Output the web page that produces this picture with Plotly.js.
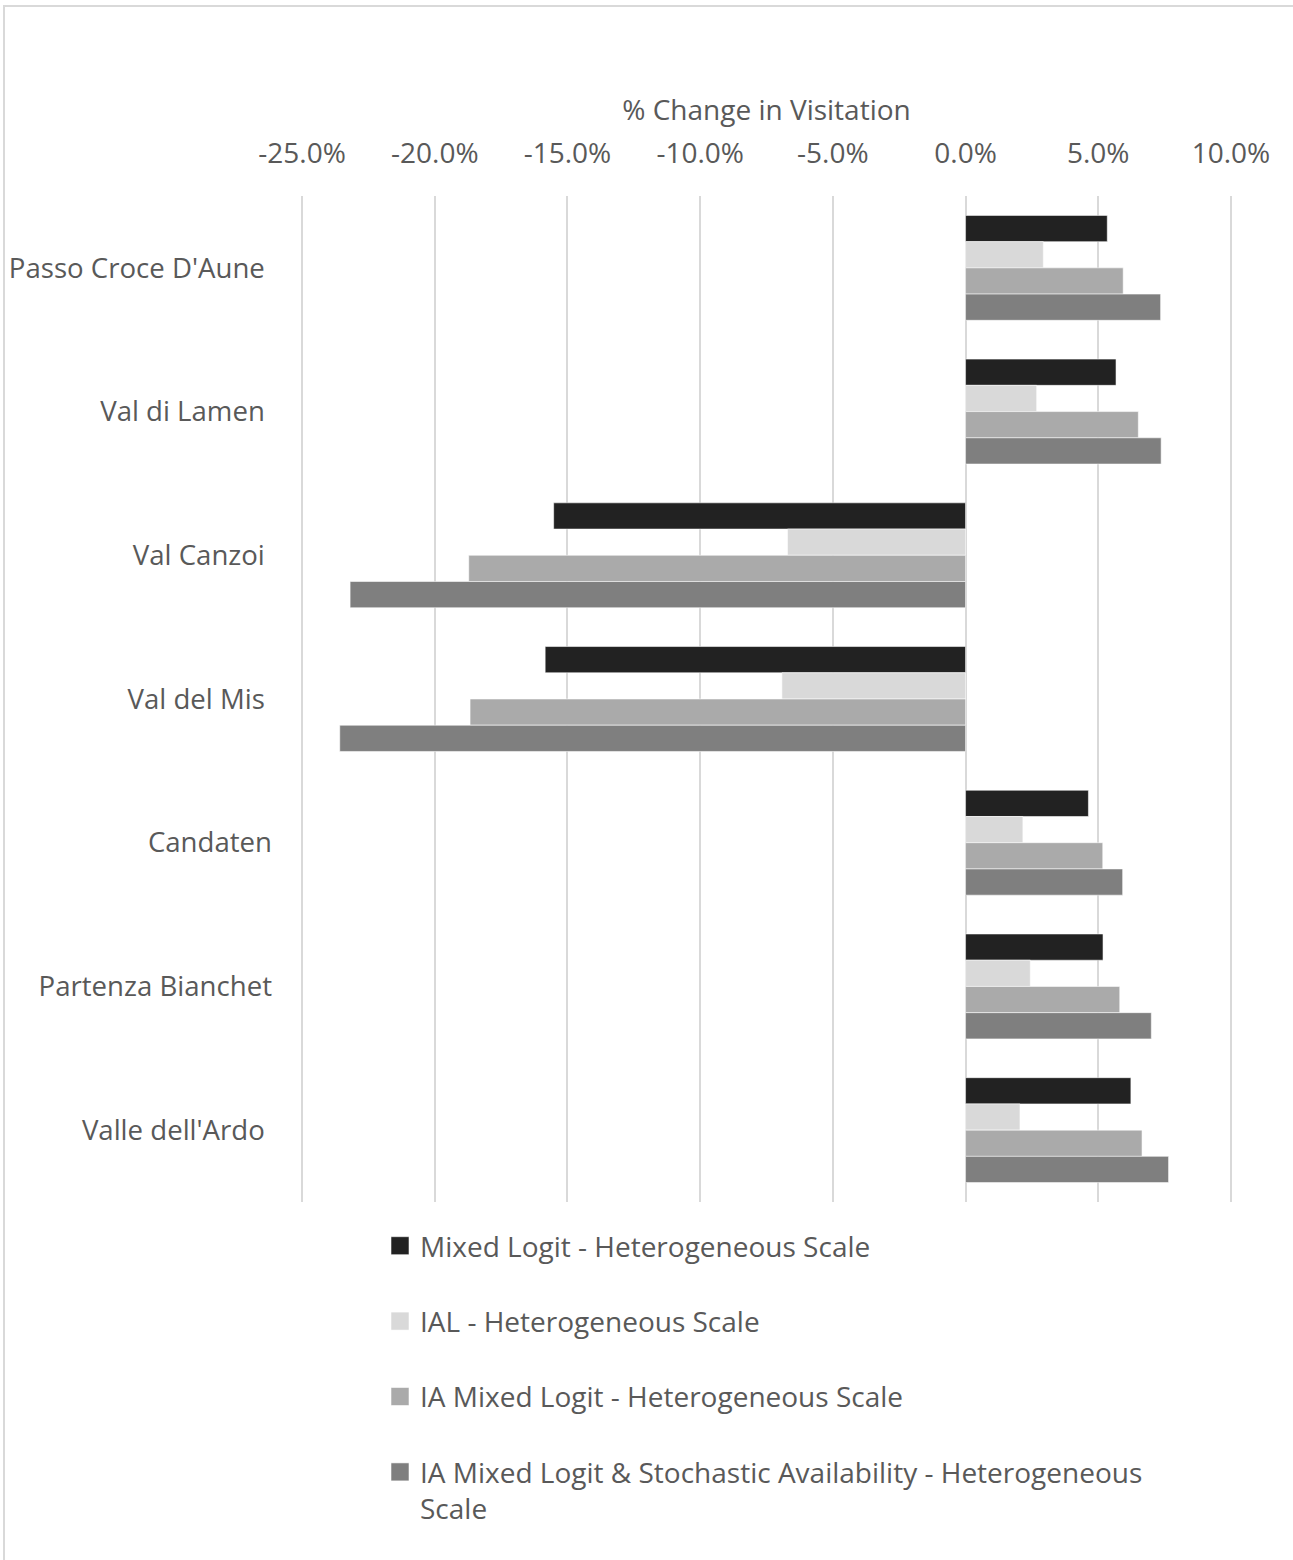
<!DOCTYPE html>
<html>
<head>
<meta charset="utf-8">
<script src="https://cdn.plot.ly/plotly-3.0.1.min.js"></script>
<style>
  html, body { margin: 0; padding: 0; background: #ffffff; }
  #chart { width: 1293px; height: 1560px; }
</style>
</head>
<body>
<div id="chart"></div>
<script>
// Sites, listed top to bottom
const sites = ["Passo Croce D'Aune", "Val di Lamen", "Val Canzoi", "Val del Mis",
               "Candaten", "Partenza Bianchet", "Valle dell'Ardo"];
// Category labels as printed on the axis (several end with a space)
const siteLabels = ["Passo Croce D'Aune\u00a0", "Val di Lamen\u00a0", "Val Canzoi\u00a0",
                    "Val del Mis\u00a0", "Candaten", "Partenza Bianchet", "Valle dell'Ardo\u00a0"];

// % change in visitation per model
const mixedLogit   = [5.34, 5.67, -15.52, -15.84, 4.63, 5.18, 6.23];
const ial          = [2.93, 2.68, -6.71, -6.92, 2.16, 2.44, 2.05];
const iaMixedLogit = [5.94, 6.51, -18.72, -18.67, 5.17, 5.81, 6.65];
const iaStochastic = [7.35, 7.37, -23.19, -23.58, 5.92, 7.00, 7.65];

const seriesNames = [
  "Mixed Logit - Heterogeneous Scale",
  "IAL - Heterogeneous Scale",
  "IA Mixed Logit - Heterogeneous Scale",
  "IA Mixed Logit & Stochastic Availability - Heterogeneous<br>Scale"
];
const seriesColors = ["#222222", "#d9d9d9", "#aaaaaa", "#7f7f7f"];

const xTickVals = [-25, -20, -15, -10, -5, 0, 5, 10];
const xTickText = ["-25.0%", "-20.0%", "-15.0%", "-10.0%", "-5.0%", "0.0%", "5.0%", "10.0%"];

// Page geometry; the value range is padded a hair so the end gridlines are kept
const W = 1293, H = 1560;
const M = { l: 301, r: 61, t: 196, b: 358 };
const xRange = [-25.04, 10.04];
const plotW = W - M.l - M.r, plotH = H - M.t - M.b;
const pxToPaperX = px => (px - M.l) / plotW;
const pxToPaperY = py => (H - M.b - py) / plotH;

const textColor = "#595959";
const fontFamily = "'Open Sans', sans-serif";
const baseFont = { family: fontFamily, size: 28, color: textColor };
const catFont = { family: fontFamily, size: 27.6, color: textColor };

const seriesValues = [mixedLogit, ial, iaMixedLogit, iaStochastic];
const traces = seriesValues.map((vals, i) => ({
  type: "bar",
  orientation: "h",
  name: seriesNames[i],
  legendgroup: "g" + i,
  x: vals,
  y: sites,
  marker: { color: seriesColors[i], line: { color: "rgba(255,255,255,0.55)", width: 1 } },
  hoverinfo: "skip"
}));

const layout = {
  width: W,
  height: H,
  margin: M,
  paper_bgcolor: "#ffffff",
  plot_bgcolor: "#ffffff",
  font: baseFont,
  barmode: "group",
  bargap: 0.27,
  bargroupgap: 0,
  showlegend: true,
  xaxis: {
    side: "top",
    range: xRange,
    autorange: false,
    tickmode: "array",
    tickvals: xTickVals,
    ticktext: xTickText,
    ticks: "",
    ticklabelstandoff: 26,
    tickfont: baseFont,
    showgrid: true,
    gridcolor: "#d9d9d9",
    gridwidth: 2,
    zeroline: false,
    showline: false,
    automargin: false,
    fixedrange: true,
    title: { text: "% Change in Visitation", font: baseFont, standoff: 4 }
  },
  yaxis: {
    type: "category",
    autorange: "reversed",
    tickmode: "array",
    tickvals: sites,
    ticktext: siteLabels,
    ticks: "",
    ticklabelstandoff: 28,
    tickfont: catFont,
    showgrid: false,
    zeroline: false,
    showline: false,
    automargin: false,
    fixedrange: true
  },
  legend: {
    orientation: "v",
    x: pxToPaperX(380),
    xanchor: "left",
    y: pxToPaperY(1221),
    yanchor: "top",
    traceorder: "grouped",
    tracegroupgap: 36,
    valign: "top",
    font: baseFont,
    bgcolor: "rgba(0,0,0,0)",
    borderwidth: 0
  },
  shapes: [{
    type: "rect",
    xref: "paper", yref: "paper",
    x0: pxToPaperX(4), x1: pxToPaperX(W + 20),
    y0: pxToPaperY(H + 20), y1: pxToPaperY(6),
    line: { color: "#d9d9d9", width: 2 },
    fillcolor: "rgba(0,0,0,0)",
    layer: "below"
  }]
};

const chartDiv = document.getElementById("chart");

// Larger square swatches in the legend (18px instead of the default 12px)
function enlargeLegendSwatches() {
  chartDiv.querySelectorAll("g.legendpoints path").forEach(p => {
    p.setAttribute("d", "M9,9H-9V-9H9Z");
  });
}

Plotly.newPlot(chartDiv, traces, layout, { displayModeBar: false, staticPlot: true })
  .then(() => {
    enlargeLegendSwatches();
    chartDiv.on("plotly_afterplot", enlargeLegendSwatches);
    requestAnimationFrame(enlargeLegendSwatches);
  });
</script>
</body>
</html>
